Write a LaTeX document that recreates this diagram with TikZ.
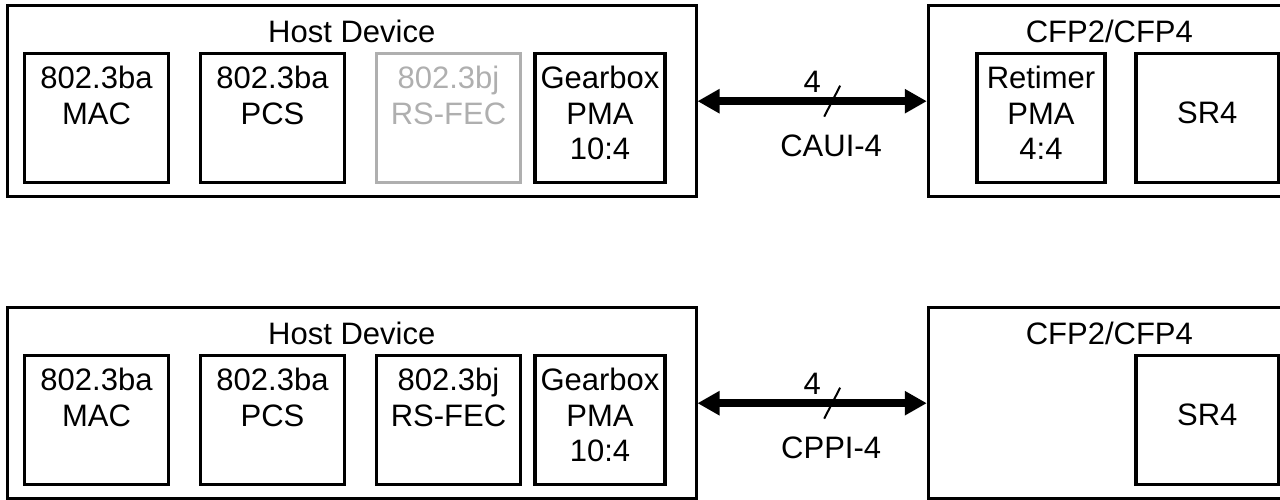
\documentclass[tikz,border=0pt]{standalone}
\usepackage{fontspec}
\setmainfont{Liberation Sans}
\usetikzlibrary{arrows.meta,positioning}
\definecolor{fecgray}{RGB}{175,175,175}

\begin{document}
\begin{tikzpicture}[x=1pt,y=1pt,
  outer box/.style={rectangle,draw,line width=3pt,outer sep=0pt,inner sep=0pt,anchor=north west,minimum height=191pt},
  sub box/.style={rectangle,draw,line width=3.5pt,outer sep=0pt,inner sep=0pt,minimum width=144pt,minimum height=129pt},
  gray box/.style={sub box,draw=fecgray},
  box text/.style={inner sep=0pt,align=center,font=\fontsize{31}{35.5}\selectfont},
  title text/.style={inner sep=0pt,anchor=base,font=\fontsize{31}{35.5}\selectfont},
  bus/.style={{Triangle[length=22pt,width=23pt]}-{Triangle[length=22pt,width=23pt]},line width=8.5pt,shorten <=1.5pt,shorten >=1.5pt},
  slash/.style={line width=2pt}]

  \clip (0,0) rectangle (1280,500);

  % upper setup, with retimer
  \node[outer box,minimum width=688.5pt] (host1) at (7.5,494.3) {};
  \node[outer box,minimum width=362pt] (cfp1) at (928.3,494.3) {};
  \node[title text] (hostname1) at ([yshift=-37.3pt]host1.north) {Host Device};
  \node[title text] (cfpname1) at ([yshift=-37.3pt]cfp1.north) {CFP2/CFP4};

  \node[sub box,anchor=north west] (mac1) at (24.5,446.7) {};
  \node[sub box,right=32pt of mac1] (pcs1) {};
  \node[gray box,right=32pt of pcs1] (fec1) {};
  \node[sub box,minimum width=130pt,right=14.5pt of fec1] (gear1) {};
  \node[sub box,minimum width=128pt,anchor=north west] (retimer1) at (977,446.7) {};
  \node[sub box,minimum width=142.5pt,right=31pt of retimer1] (sr1) {};

  \node[box text,below=13pt of mac1.north] (mactext1) {802.3ba\\MAC};
  \node[box text,below=13pt of pcs1.north] (pcstext1) {802.3ba\\PCS};
  \node[box text,text=fecgray,below=13pt of fec1.north] (fectext1) {802.3bj\\RS-FEC};
  \node[box text,below=13pt of gear1.north] (geartext1) {Gearbox\\PMA\\10:4};
  \node[box text,below=13pt of retimer1.north] (retimertext1) {Retimer\\PMA\\4:4};
  \node[box text,below=48.5pt of sr1.north] (srtext1) {SR4};

  \draw[bus] (host1.east) -- coordinate (mid1) (cfp1.west);
  \node[title text] (lanes1) at ([yshift=8.2pt]mid1) {4};
  \draw[slash] ([xshift=12pt,yshift=-15.5pt]mid1) -- ([xshift=28pt,yshift=15.5pt]mid1);
  \node[title text] (caui) at ([xshift=19pt,yshift=-55pt]mid1) {CAUI-4};

  % lower setup, fec in host, no retimer
  \node[outer box,minimum width=688.5pt] (host2) at (7.5,192.3) {};
  \node[outer box,minimum width=362pt] (cfp2) at (928.3,192.3) {};
  \node[title text] (hostname2) at ([yshift=-37.3pt]host2.north) {Host Device};
  \node[title text] (cfpname2) at ([yshift=-37.3pt]cfp2.north) {CFP2/CFP4};

  \node[sub box,anchor=north west] (mac2) at (24.5,144.7) {};
  \node[sub box,right=32pt of mac2] (pcs2) {};
  \node[sub box,right=32pt of pcs2] (fec2) {};
  \node[sub box,minimum width=130pt,right=14.5pt of fec2] (gear2) {};
  \node[sub box,minimum width=142.5pt,anchor=north west] (sr2) at (1136,144.7) {};

  \node[box text,below=13pt of mac2.north] (mactext2) {802.3ba\\MAC};
  \node[box text,below=13pt of pcs2.north] (pcstext2) {802.3ba\\PCS};
  \node[box text,below=13pt of fec2.north] (fectext2) {802.3bj\\RS-FEC};
  \node[box text,below=13pt of gear2.north] (geartext2) {Gearbox\\PMA\\10:4};
  \node[box text,below=48.5pt of sr2.north] (srtext2) {SR4};

  \draw[bus] (host2.east) -- coordinate (mid2) (cfp2.west);
  \node[title text] (lanes2) at ([yshift=8.2pt]mid2) {4};
  \draw[slash] ([xshift=12pt,yshift=-15.5pt]mid2) -- ([xshift=28pt,yshift=15.5pt]mid2);
  \node[title text] (cppi) at ([xshift=19pt,yshift=-55pt]mid2) {CPPI-4};

\end{tikzpicture}
\end{document}
